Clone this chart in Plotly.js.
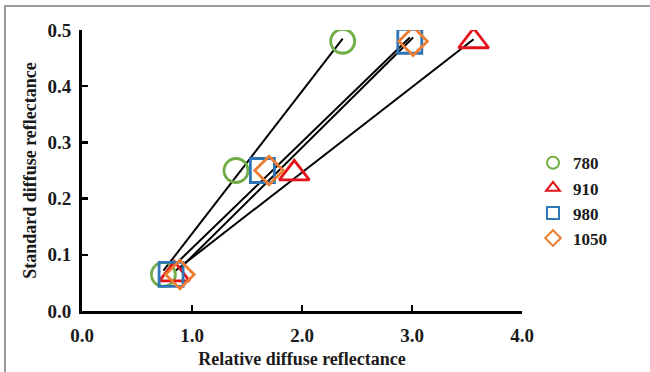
<!DOCTYPE html>
<html>
<head>
<meta charset="utf-8">
<script src="https://cdn.plot.ly/plotly-3.0.1.min.js"></script>
<style>
html,body{margin:0;padding:0;background:#fff;}
#frame{position:absolute;left:4px;top:5px;width:660px;height:380px;border-top:2px solid #9a9a9a;border-left:2px solid #9a9a9a;}
#chart{position:absolute;left:0;top:0;width:650px;height:372px;}
</style>
</head>
<body>
<div id="frame"></div>
<div id="chart"></div>
<script>
// Series names (wavelengths, nm)
const seriesNames = ["780", "910", "980", "1050"];
// Standard diffuse reflectance (y)
const ySTD = [0.065, 0.25, 0.48];
const y910 = [0.065, 0.245, 0.48];
// Relative diffuse reflectance (x) per series
const x780  = [0.74, 1.40, 2.37];
const x910  = [0.84, 1.93, 3.56];
const x980  = [0.81, 1.64, 2.98];
const x1050 = [0.89, 1.70, 3.01];
// Tick labels
const xTickVals = [0, 1, 2, 3, 4];
const xTickText = ["0.0", "1.0", "2.0", "3.0", "4.0"];
const yTickVals = [0, 0.1, 0.2, 0.3, 0.4, 0.5];
const yTickText = ["0.0", "0.1", "0.2", "0.3", "0.4", "0.5"];

const xs = [x780, x910, x980, x1050];
const ys = [ySTD, y910, ySTD, ySTD];
const colors = ["#70AD47", "#E3121B", "#2E75B6", "#ED7D31"];
const symbols = ["circle-open", "triangle-up-open", "square-open", "diamond-open"];
const sizes = [24, 26, 24, 22];

function fit(x, y) {
  const n = x.length;
  const mx = x.reduce((a,b)=>a+b,0)/n, my = y.reduce((a,b)=>a+b,0)/n;
  let sxy=0, sxx=0;
  for (let i=0;i<n;i++){ sxy+=(x[i]-mx)*(y[i]-my); sxx+=(x[i]-mx)**2; }
  const b = sxy/sxx, a = my - b*mx;
  const x0 = Math.min(...x), x1 = Math.max(...x);
  return {x:[x0,x1], y:[a+b*x0, a+b*x1]};
}

const traces = [];
for (let i=0;i<4;i++){
  const f = fit(xs[i], ys[i]);
  traces.push({x:f.x, y:f.y, mode:"lines", line:{color:"#000", width:2}, showlegend:false, hoverinfo:"skip"});
}
for (let i=0;i<4;i++){
  traces.push({
    x: xs[i], y: ys[i], name: seriesNames[i],
    mode: "markers", type: "scatter",
    marker: {symbol: symbols[i], size: sizes[i], color: colors[i], line:{width:2.8, color: colors[i]}}
  });
}

const fam = "Liberation Serif, DejaVu Serif, serif";
const layout = {
  width: 650, height: 372,
  margin: {l: 82, r: 128, t: 30, b: 61},
  paper_bgcolor: "rgba(0,0,0,0)", plot_bgcolor: "rgba(0,0,0,0)",
  font: {family: fam, color: "#1a1a1a", size: 18},
  xaxis: {
    range: [0, 4], tickvals: xTickVals, ticktext: xTickText,
    showgrid: false, zeroline: false, showline: true, linecolor: "#000", linewidth: 3,
    ticks: "inside", ticklen: 6, tickwidth: 2.5, tickcolor: "#000",
    ticklabelstandoff: 5,
    tickfont: {family: fam, size: 19, weight: "bold"},
    title: {text: "<b>Relative diffuse reflectance</b>", font: {family: fam, size: 18}, standoff: 8}
  },
  yaxis: {
    range: [0, 0.5], tickvals: yTickVals, ticktext: yTickText,
    showgrid: false, zeroline: false, showline: true, linecolor: "#000", linewidth: 3,
    ticks: "inside", ticklen: 6, tickwidth: 2.5, tickcolor: "#000",
    ticklabelstandoff: 4,
    tickfont: {family: fam, size: 19, weight: "bold"},
    title: {text: "<b>Standard diffuse reflectance</b>", font: {family: fam, size: 18}, standoff: 7}
  },
  showlegend: true,
  legend: {x: 1.025, y: 0.59, xanchor: "left", yanchor: "top", itemsizing: "constant",
    font: {family: fam, size: 17, weight: "bold"}, bgcolor: "rgba(0,0,0,0)"}
};

Plotly.newPlot("chart", traces, layout, {displayModeBar: false, staticPlot: true});
</script>
</body>
</html>
